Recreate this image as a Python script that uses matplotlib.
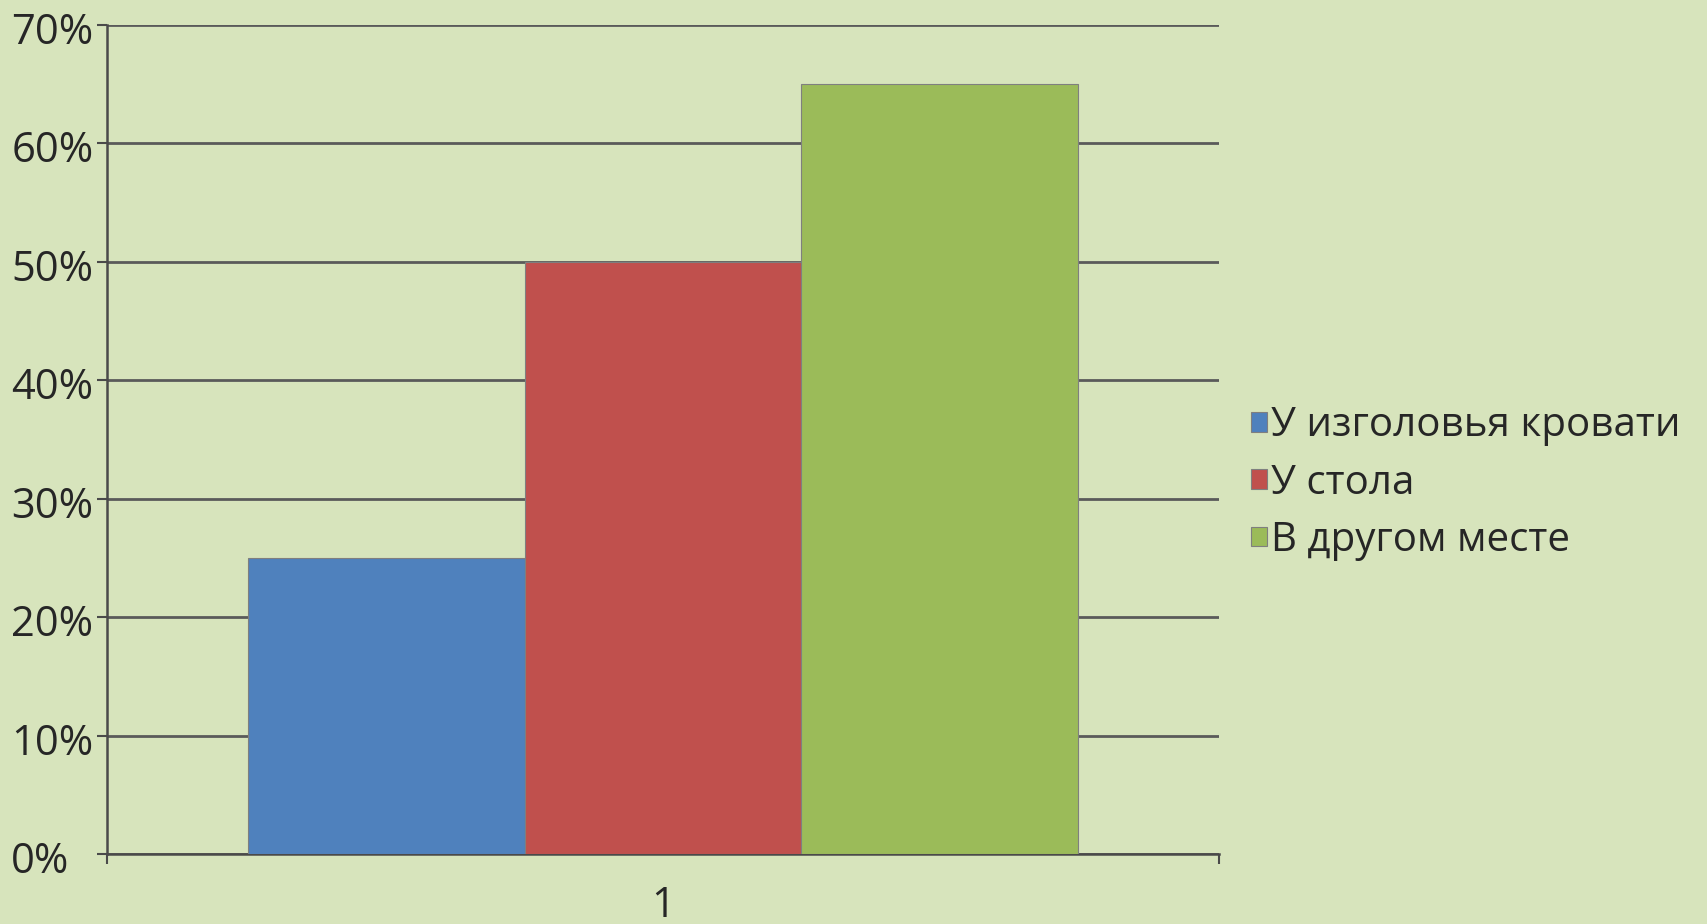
import numpy as np
import matplotlib.pyplot as plt
from matplotlib.ticker import PercentFormatter
from matplotlib.transforms import ScaledTranslation

# данные
labels = ['У изголовья кровати', 'У стола', 'В другом месте']
values = [0.25, 0.50, 0.65]
colors = ['#4F81BD', '#C0504D', '#9BBB59']
category = ['1']
yticks = np.arange(0, 0.71, 0.1)

bg = '#D7E4BC'
txt = '#262626'

plt.rcParams['font.family'] = ['Open Sans', 'DejaVu Sans']

fig = plt.figure(figsize=(17.07, 9.24), dpi=100, facecolor=bg)
ax = fig.add_axes([0.0627, 0.0758, 0.6514, 0.8972], facecolor=bg)

w = 0.249
offsets = (np.arange(len(values)) - 1) * w
for off, v, c, lab in zip(offsets, values, colors, labels):
    ax.bar(off, v, width=w, color=c, edgecolor='#7f7f7f', linewidth=0.8,
           label=lab, zorder=3)

ax.set_xlim(-0.5, 0.5)
ax.set_ylim(0, 0.7)
ax.set_yticks(yticks)
ax.yaxis.set_major_formatter(PercentFormatter(1.0, decimals=0))
ax.grid(axis='y', color='#5a5a5a', linewidth=2, zorder=0)
ax.set_axisbelow(True)

ax.set_xticks([0])
ax.set_xticklabels(category)
ax.set_xticks([-0.5, 0.5], minor=True)
ax.tick_params(axis='x', which='major', length=0, pad=22, labelsize=30, colors=txt)
ax.tick_params(axis='x', which='minor', length=7, width=1.5, color='#4a4a4a', direction='out')
ax.tick_params(axis='y', length=7, width=1.5, color='#4a4a4a', pad=62, labelsize=30, labelcolor=txt)
# подписи оси Y выровнены влево и чуть ниже линий сетки
shift = ScaledTranslation(0, -3 / 100, fig.dpi_scale_trans)
for t in ax.get_yticklabels():
    t.set_horizontalalignment('left')
    t.set_transform(t.get_transform() + shift)

for s in ['top', 'right']:
    ax.spines[s].set_visible(False)
for s in ['left', 'bottom']:
    ax.spines[s].set_color('#4a4a4a')
    ax.spines[s].set_linewidth(1.8)

ax.legend(loc='center left', bbox_to_anchor=(0.733, 0.477), bbox_transform=fig.transFigure,
          frameon=False, fontsize=29, handlelength=0.38, handleheight=0.38,
          handletextpad=0.12, labelspacing=0.42, labelcolor=txt, borderaxespad=0,
          borderpad=0)

fig.savefig('out.png', dpi=100, facecolor=bg)
